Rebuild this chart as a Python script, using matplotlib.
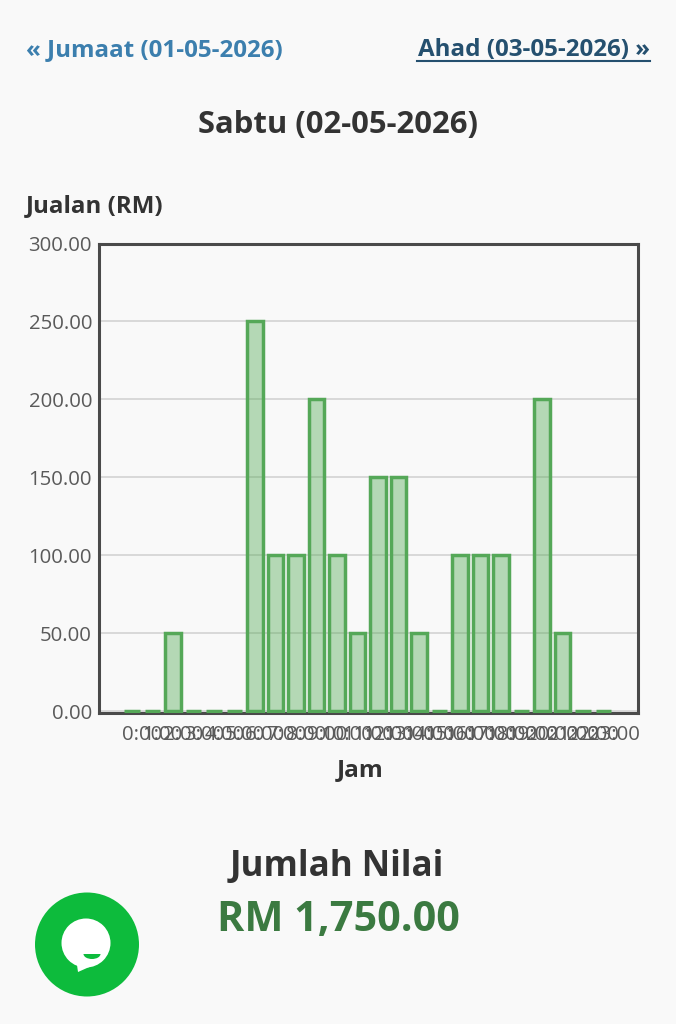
import matplotlib
matplotlib.use('Agg')
import matplotlib.pyplot as plt
from matplotlib.patches import Circle, Ellipse, Polygon, Rectangle

plt.rcParams['font.family'] = ['Open Sans', 'DejaVu Sans']

hours = [str(h) + ':00' for h in range(24)]
sales = [0, 0, 50, 0, 0, 0, 250, 100, 100, 200, 100, 50, 150, 150, 50, 0, 100, 100, 100, 0, 200, 50, 0, 0]
yticks = [0, 50, 100, 150, 200, 250, 300]

W, H = 676, 1024
BG = '#f9f9f9'
fig = plt.figure(figsize=(W / 100, H / 100), dpi=100, facecolor=BG)

# chart area, measured in pixels off the screenshot
left, right, top, bottom = 99, 638, 243.5, 713
ax = fig.add_axes([left / W, 1 - bottom / H, (right - left) / W, (bottom - top) / H])
ax.set_facecolor('none')

x = list(range(len(hours)))
ax.bar(x, sales, width=0.76, color=(0.30, 0.66, 0.31, 0.4), edgecolor='#55a858', linewidth=2.5, zorder=3)

ax.set_xlim(-1.61, 24.68)
ax.set_ylim(-1.15, 300)
ax.set_yticks(yticks)
ax.set_yticklabels(['%.2f' % v for v in yticks])
ax.set_xticks([i + 0.5 for i in x])
ax.set_xticklabels(hours)
ax.tick_params(axis='both', length=0, labelsize=14.7, labelcolor='#5a5a5a')
ax.tick_params(axis='x', pad=9)
ax.tick_params(axis='y', pad=5)
ax.grid(axis='y', color='#d6d6d6', linewidth=1.3, zorder=0)
ax.set_axisbelow(True)
for s in ax.spines.values():
    s.set_linewidth(2.2)
    s.set_color('#4a4a4a')

# page furniture
ov = fig.add_axes([0, 0, 1, 1], zorder=5)
ov.set_xlim(0, W)
ov.set_ylim(H, 0)
ov.axis('off')

ov.text(26, 50, '« Jumaat (01-05-2026)', fontsize=17.35, fontweight='bold', color='#3c7fae', va='center')
ov.text(650, 50, 'Ahad (03-05-2026) »', fontsize=17.35, fontweight='bold', color='#25506f', va='center', ha='right')
ov.plot([417, 650], [60.5, 60.5], color='#25506f', lw=1.5)
ov.text(338, 125, 'Sabtu (02-05-2026)', fontsize=22.3, fontweight='bold', color='#333333', va='center', ha='center')
ov.text(26, 206, 'Jualan (RM)', fontsize=17.4, fontweight='bold', color='#333333', va='center')
ov.text(360, 770, 'Jam', fontsize=17.6, fontweight='bold', color='#333333', va='center', ha='center')
ov.text(337, 867, 'Jumlah Nilai', fontsize=25.1, fontweight='bold', color='#333333', va='center', ha='center')
ov.text(338, 920, 'RM 1,750.00', fontsize=29.8, fontweight='bold', color='#3b7a41', va='center', ha='center')

# chat button
ov.add_patch(Circle((87, 944.5), 52, color='#0dbb3c', lw=0))
ov.add_patch(Circle((86, 943), 24.5, color='white', lw=0))
ov.add_patch(Polygon([(76, 958), (78, 972), (96, 964)], color='white', lw=0))
smile = Ellipse((92, 954), 17, 10, color='#0dbb3c', lw=0)
ov.add_patch(smile)
clip = Rectangle((80, 954), 24, 8, transform=ov.transData)
smile.set_clip_path(clip)

fig.savefig('out.png', dpi=100, facecolor=BG)
